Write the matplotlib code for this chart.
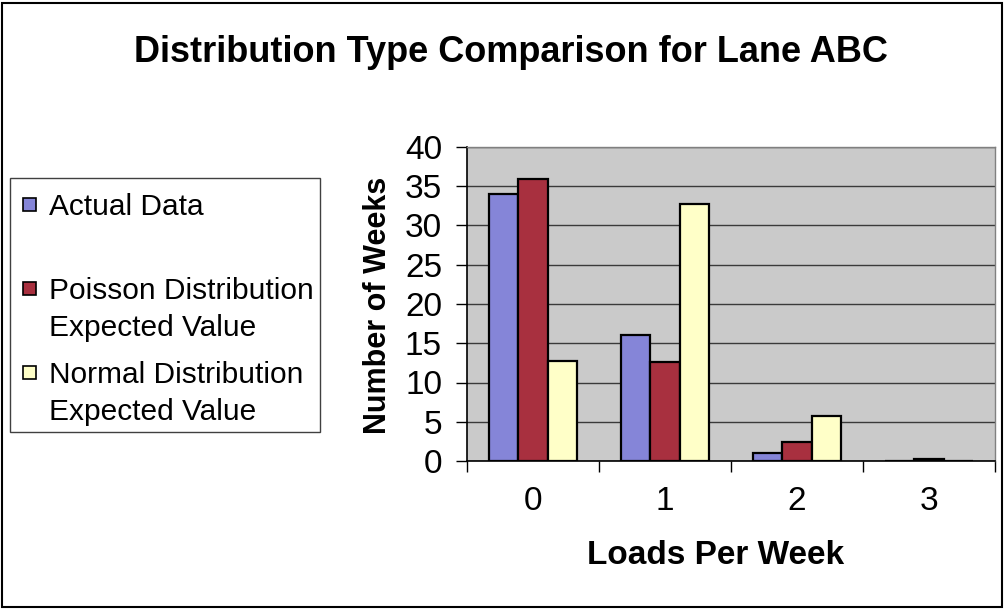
import numpy as np
import matplotlib.pyplot as plt
from matplotlib.patches import Rectangle

plt.rcParams['font.family'] = ['Liberation Sans', 'DejaVu Sans']

loads = ["0", "1", "2", "3"]
actual = [34, 16, 1, 0]
poisson = [35.9, 12.6, 2.4, 0.3]
normal = [12.8, 32.7, 5.7, 0]
series_names = ["Actual Data", "Poisson Distribution\nExpected Value",
                "Normal Distribution\nExpected Value"]
colors = ["#8585d8", "#a8303f", "#ffffc8"]

W, H = 1005, 609
fig = plt.figure(figsize=(W / 100, H / 100), dpi=100)

# plot area in pixel terms
left, right, top, bottom = 467, 995, 147, 461
ax = fig.add_axes([left / W, 1 - bottom / H, (right - left) / W, (bottom - top) / H])
ax.set_facecolor("#cacaca")

x = np.arange(len(loads))
w = 1 / 4.5
for i, (vals, c) in enumerate(zip([actual, poisson, normal], colors)):
    ax.bar(x + (i - 1) * w, vals, width=w, color=c, edgecolor="black",
           linewidth=1.6, zorder=3)

ax.set_xlim(-0.5, 3.5)
ax.set_ylim(0, 40)
ax.set_yticks(np.arange(0, 41, 5))
ax.yaxis.grid(True, color="#3a3a3a", linewidth=1.0, zorder=1)
ax.tick_params(axis="y", direction="out", length=8, width=1, pad=10, labelsize=24)

# category boundaries get tick marks, labels sit at centres
ax.set_xticks(np.arange(-0.5, 4, 1))
ax.set_xticklabels([])
ax.tick_params(axis="x", which="major", direction="out", length=8, width=1)
ax.set_xticks(x, minor=True)
ax.set_xticklabels(loads, minor=True)
ax.tick_params(axis="x", which="minor", length=0, pad=18, labelsize=24)

for s in ["top", "right"]:
    ax.spines[s].set_color("#808080")
    ax.spines[s].set_linewidth(1.0)
ax.spines["left"].set_linewidth(1.2)
ax.spines["bottom"].set_linewidth(1.2)

fig.text(511 / W, 1 - 52 / H, "Distribution Type Comparison for Lane ABC",
         ha="center", va="center", fontsize=26, fontweight="bold")
fig.text(378 / W, 1 - 305 / H, "Number of Weeks", rotation=90,
         ha="center", va="center", fontsize=22, fontweight="bold")
fig.text(716 / W, 1 - 555 / H, "Loads Per Week",
         ha="center", va="center", fontsize=24, fontweight="bold")

# legend box
fig.patches.append(Rectangle((10 / W, 1 - 432 / H), 310 / W, 254 / H,
                             transform=fig.transFigure, facecolor="white",
                             edgecolor="#404040", linewidth=1.0))
entry_y = [204, 288, 372]
line_gap = 37
for name, c, yy in zip(series_names, colors, entry_y):
    fig.patches.append(Rectangle((23 / W, 1 - (yy + 7) / H), 13 / W, 13 / H,
                                 transform=fig.transFigure, facecolor=c,
                                 edgecolor="black", linewidth=1.2))
    for k, line in enumerate(name.split("\n")):
        fig.text(49 / W, 1 - (yy + k * line_gap) / H, line, ha="left",
                 va="center_baseline", fontsize=21.5)

# outer frame
fig.patches.append(Rectangle((2 / W, 2 / H), 1000 / W, 604 / H,
                             transform=fig.transFigure, facecolor="none",
                             edgecolor="black", linewidth=1.5))

fig.savefig("out.png", dpi=100)
